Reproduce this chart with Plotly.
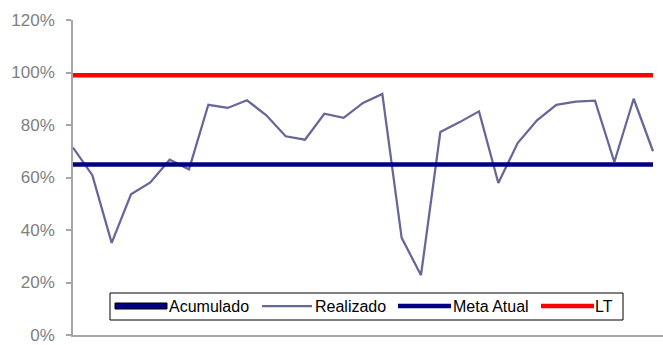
import plotly.graph_objects as go

# Monthly performance (%), one value per period
periodos = list(range(1, 32))
realizado = [71.4, 60.9, 35.1, 53.6, 58.1, 66.8, 63.1, 87.7, 86.5, 89.4,
             83.7, 75.7, 74.4, 84.3, 82.7, 88.4, 91.8, 37.0, 22.8, 77.3,
             81.1, 85.2, 57.9, 73.1, 81.8, 87.7, 88.9, 89.3, 65.9, 90.0, 70.0]
meta_atual = [65.0] * len(periodos)
lt = [99.0] * len(periodos)
y_ticks = [0, 20, 40, 60, 80, 100, 120]
y_tick_text = [f"{v}%" for v in y_ticks]

legend_labels = ["Acumulado", "Realizado", "Meta Atual", "LT"]

W, H = 663, 345
ML, MR, MT, MB = 73, 0, 20, 10

C_REAL = "#666699"
C_META = "#000080"
C_LT = "#FF0000"
FONT = "Liberation Sans, Arial, sans-serif"

fig = go.Figure()
fig.add_trace(go.Scatter(x=periodos, y=realizado, mode="lines", name="Realizado",
                         line=dict(color=C_REAL, width=2.25), showlegend=False))
fig.add_trace(go.Scatter(x=periodos, y=meta_atual, mode="lines", name="Meta Atual",
                         line=dict(color=C_META, width=4.5), showlegend=False))
fig.add_trace(go.Scatter(x=periodos, y=lt, mode="lines", name="LT",
                         line=dict(color=C_LT, width=4.5), showlegend=False))

# pixel -> paper helpers for the boxed legend
pw, ph = W - ML - MR, H - MT - MB
def px(x):
    return (x - ML) / pw
def py(y):
    return (H - MB - y) / ph

shapes = [dict(type="rect", xref="paper", yref="paper",
               x0=px(110), x1=px(623), y0=py(320), y1=py(293),
               line=dict(color="black", width=1), fillcolor="white", layer="above")]
annotations = []
ymid = 306
# Acumulado: filled box icon
shapes.append(dict(type="rect", xref="paper", yref="paper",
                   x0=px(115), x1=px(167), y0=py(309), y1=py(303),
                   line=dict(color="black", width=1), fillcolor=C_META, layer="above"))
line_icons = [(262, 312, C_REAL, 2.25), (398, 451, C_META, 4.5), (541, 594, C_LT, 4.5)]
for x0, x1, c, w in line_icons:
    shapes.append(dict(type="line", xref="paper", yref="paper",
                       x0=px(x0), x1=px(x1), y0=py(ymid), y1=py(ymid),
                       line=dict(color=c, width=w), layer="above"))
for label, xt in zip(legend_labels, [167, 313, 451, 593]):
    annotations.append(dict(text=label, xref="paper", yref="paper",
                            x=px(xt), y=py(ymid), xanchor="left", yanchor="middle",
                            showarrow=False, font=dict(family=FONT, size=16, color="black")))

fig.update_layout(
    width=W, height=H,
    margin=dict(l=ML, r=MR, t=MT, b=MB),
    paper_bgcolor="white", plot_bgcolor="white",
    showlegend=False,
    shapes=shapes, annotations=annotations,
    xaxis=dict(range=[1, 1 + (pw) / (580 / 30)], showgrid=False, zeroline=False,
               showticklabels=False, ticks="", showline=True,
               linecolor="#a6a6a6", linewidth=1.5, fixedrange=True),
    yaxis=dict(range=[0, 120], tickmode="array", tickvals=y_ticks, ticktext=y_tick_text,
               showgrid=False, zeroline=False, showline=True,
               linecolor="#a6a6a6", linewidth=1.5,
               ticks="outside", ticklen=5, tickcolor="#a6a6a6", tickwidth=1.5,
               ticklabelstandoff=8,
               tickfont=dict(family=FONT, size=17, color="#808080")),
)

fig.write_html("out.html")
